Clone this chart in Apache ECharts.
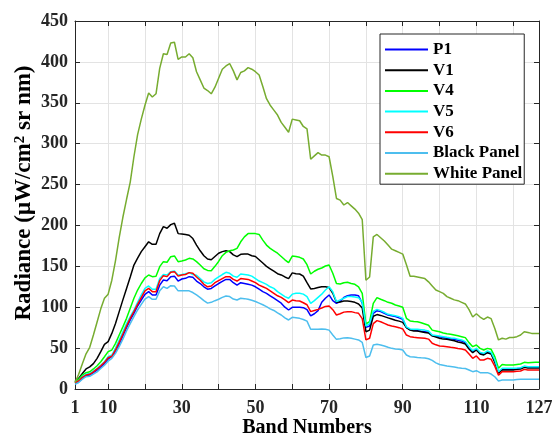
<!DOCTYPE html>
<html><head><meta charset="utf-8">
<script src="https://cdn.jsdelivr.net/npm/echarts@6/dist/echarts.min.js"></script>
<style>html,body{margin:0;padding:0;background:#fff}#c{width:552px;height:439px}</style>
</head><body><div id="c"></div>
<script>
const bands = Array.from({length: 127}, (_, i) => i + 1);
const xTickLabels = [1, 10, 30, 50, 70, 90, 110, 127];
const xGridValues = [10, 20, 30, 40, 50, 60, 70, 80, 90, 100, 110, 120];
const seriesNames = ['P1', 'V1', 'V4', 'V5', 'V6', 'Black Panel', 'White Panel'];

const P1 = [7, 9, 13, 16, 17, 20, 23, 27, 31, 36.7,
  39.5, 45.7, 54.6, 64.8, 75, 84.4, 92.5, 101.5, 108.8, 115.8,
  119, 115, 115, 127, 133.3, 132.5, 137.4, 138, 132, 134.5,
  135.3, 137.4, 136.6, 132, 129, 125, 122, 123, 126, 129,
  131.5, 134, 134, 130, 127, 130, 129, 128, 127, 125,
  122, 119, 117, 114, 111, 108, 105, 100, 96.6, 99.9,
  99.9, 99.9, 99.5, 97, 89.3, 92, 95.8, 106, 111, 115,
  108, 104.8, 107, 112, 114, 115, 115, 114, 105, 75.4,
  77, 92.5, 95.8, 94.6, 92.5, 90.5, 89.5, 88.5, 87, 85.2,
  75, 72.5, 72, 71.3, 70.5, 70, 69.5, 65, 64.5, 64,
  63, 62, 61.5, 60.7, 59.5, 58.7, 56.7, 50.5, 45.7, 48.5,
  43.6, 42.4, 45.2, 43.6, 34.2, 20, 24, 24, 24, 24,
  24.5, 25.3, 27.3, 26.5, 26.5, 26.5, 26.5];

const V1 = [9, 13, 19, 24.5, 27, 31, 37.5, 45.7, 54.6, 58,
  68, 80, 94.6, 109, 123, 137, 151.6, 160, 168, 174,
  180, 177, 177, 190, 198.5, 196.5, 201, 202.6, 190, 189.6,
  189, 188, 184, 176, 169, 163, 159, 158, 162, 166,
  168, 169, 168, 164, 161.8, 164.7, 165, 165, 163, 162,
  158, 154, 150, 147, 144, 141, 139.5, 137, 135, 142,
  141, 140.6, 138, 130, 122.3, 123, 124, 125, 125, 124,
  117, 106, 106.5, 107.5, 107.5, 107, 106, 104, 99, 70,
  72, 89, 91, 90, 88.5, 87, 85.5, 84, 83, 81.5,
  75, 72, 71, 71, 70, 69, 68.5, 65, 63.5, 62,
  61, 60.7, 60, 59, 57.5, 56.5, 55, 49, 44.4, 47.7,
  42.8, 41.6, 44.4, 42.8, 32.6, 19.2, 23.2, 23.2, 23.2, 23.2,
  24, 24.5, 26.5, 25.7, 25.7, 25.7, 25.7];

const V4 = [9, 12, 17, 20, 21, 24.5, 28.5, 33.4, 39.5, 45.7,
  47.7, 55.8, 66, 76, 86.4, 98.7, 111, 121, 129, 136,
  139.4, 137.4, 138, 149.6, 155.7, 155, 161.8, 162.7, 155.7, 156.5,
  157.8, 159.8, 159, 155.7, 151.7, 147, 145, 144.5, 150, 156,
  163, 167, 169, 170, 172, 180, 186, 190, 190, 190,
  189, 182, 176, 172, 169, 166, 162, 158, 154.5, 162.6,
  162, 161, 159, 152, 140.6, 144, 146.4, 148, 150.4, 151.6,
  141.5, 129, 128.4, 130, 130.5, 129, 128, 125, 117, 79.5,
  82.3, 104.8, 111.7, 109.7, 108, 106, 104.8, 102.7, 101.5, 100,
  86.4, 83.2, 82.5, 82.3, 81, 79.5, 78, 72, 71, 70,
  68.5, 67.5, 67, 66, 65, 64, 62.8, 56.7, 51.8, 53.8,
  49.7, 47.7, 49.7, 48.5, 39.5, 25.3, 30, 29.4, 29.4, 29.4,
  30, 30.6, 32.6, 32.2, 32.4, 32.6, 32.6];

const V5 = [8, 10, 15, 18, 19, 22, 25, 29, 33.4, 39.5,
  41.6, 50, 60, 70, 80, 88.5, 96.6, 106, 115, 123,
  126, 122, 122, 135, 140, 139.4, 143.5, 144.3, 139.4, 140,
  141, 142.3, 140, 139, 135, 131, 129, 130, 134, 137,
  140, 142.7, 141.5, 138, 136.6, 140.6, 140, 139.4, 138, 135,
  132, 130, 128, 125, 123, 119, 116, 113, 111, 116,
  117, 117, 116, 113, 104.8, 108, 112, 116, 121, 125,
  119, 106.8, 109, 111, 113, 113, 112.5, 111.7, 106, 77,
  80, 95, 97.4, 95.8, 93.8, 91.3, 90.5, 89.7, 88.5, 86.4,
  76, 73.4, 73.2, 73, 72.5, 72, 71, 66, 65.5, 64.8,
  64, 63.2, 62.5, 62, 61, 60, 58, 51.8, 46.9, 49.7,
  44.8, 43.6, 46.5, 44.8, 35.5, 21.2, 25.3, 25.3, 25.3, 25.3,
  25.6, 26, 28, 27.3, 27.3, 27.3, 27.3];

const V6 = [7.7, 9.8, 14.3, 17, 18, 21, 24.5, 28.5, 32.6, 38.3,
  40, 47.7, 57, 67, 77, 86.4, 94.6, 103.5, 111.7, 120,
  123, 119, 119, 132.5, 138.6, 137.4, 142.7, 143.5, 138, 139.4,
  140, 142.3, 141.5, 137, 133, 128, 125, 126, 130, 132.5,
  135, 137.4, 137.4, 134, 132, 135, 134.5, 134, 132, 130,
  127, 125, 123, 120, 117, 114, 112, 109, 105.6, 108.8,
  108, 107.6, 105.5, 103, 94.6, 96, 97.4, 99, 101, 101.5,
  97, 90.5, 92, 94, 94.6, 94.6, 93.4, 92.5, 86, 60,
  62, 80, 83.6, 82.3, 80.3, 78.3, 77, 76.2, 75, 73.4,
  66, 64, 63.2, 62.8, 62.4, 62, 61, 56, 54, 52.6,
  52.2, 51.8, 51, 50.5, 49.5, 49, 47.7, 42.8, 37.5, 40.4,
  35.5, 35.5, 37.5, 36.3, 28, 17, 21.2, 21.2, 21.2, 21.2,
  21.6, 22, 24, 23.2, 23.2, 23.2, 23.2];

const BlackPanel = [5.7, 8, 12, 15, 15.5, 18.3, 21, 25, 29, 34,
  37.5, 43.6, 51.8, 61, 71, 80, 88.5, 96.6, 103.5, 110,
  113, 109.7, 109.7, 120, 125, 123, 126.4, 126, 120, 120,
  120, 120, 118, 115, 111.7, 108, 105, 106, 108, 109.7,
  112, 113.7, 113, 110, 108.8, 111, 110.5, 109.7, 108.5, 107,
  105, 103, 100.7, 98, 96, 93, 90.5, 87, 84.4, 87.6,
  87, 86.4, 85, 83, 73, 73, 73, 73.5, 73, 72,
  66, 60.7, 61.5, 62.5, 62.8, 62, 61, 60, 57, 38.5,
  40.4, 53.8, 54.6, 53.8, 52.5, 51, 49.7, 49, 48.5, 47.7,
  41.6, 39.5, 39, 38.5, 38.2, 38, 37, 35, 32, 30,
  29, 28, 27.5, 27, 26, 25.3, 25, 23.2, 21.2, 22.4,
  20, 20, 20, 18.3, 15, 9.8, 11, 11, 11, 11,
  11.5, 11.8, 11.8, 11.8, 11.8, 11.8, 11.8];

const WhitePanel = [8, 18, 31, 43, 51, 66, 82, 98, 111, 116,
  133, 157, 185, 210, 232, 253, 284, 311, 330, 347,
  362, 357, 361, 392, 410, 409, 423, 424, 403, 406,
  406, 410, 405, 388, 378, 368, 365, 361, 369, 380,
  391, 395, 398, 389, 378, 387, 389, 393, 391, 388,
  384, 370, 355, 347, 341, 335, 326, 320, 314, 330,
  329, 328, 321, 318, 281, 285, 289, 286, 286, 284,
  260, 233, 231, 225, 228, 224, 220, 215, 207, 133,
  137, 186, 189, 185, 181, 176, 171, 169, 167, 165,
  152, 138, 138, 137, 136, 135, 131, 126, 121, 119,
  117, 113, 111, 109, 108, 106, 104, 97, 88, 92,
  88, 85, 88, 86, 74, 60, 62, 61, 63, 63,
  64, 66, 70, 69, 68, 68, 68];

const seriesValues = [P1, V1, V4, V5, V6, BlackPanel, WhitePanel];
const seriesColors = ['#0000FF', '#000000', '#00FF00', '#00FFFF', '#FF0000', '#4DBEEE', '#77AC30'];

const FONT = 'Liberation Serif';
const AX = '#262626';
const GRID = '#e3e3e3';

const chart = echarts.init(document.getElementById('c'), null, {renderer: 'canvas'});

function pairs(arr) { return bands.map((b, i) => [b, arr[i]]); }

const xBase = {
  type: 'value', min: 1, max: 127,
  axisLine: {show: true, onZero: false, lineStyle: {color: AX, width: 1}},
  axisTick: {show: true, inside: true, length: 5, customValues: xGridValues, lineStyle: {color: AX}},
};
const yBase = {
  type: 'value', min: 0, max: 450, interval: 50,
  axisLine: {show: true, onZero: false, lineStyle: {color: AX, width: 1}},
  axisTick: {show: true, inside: true, length: 5, lineStyle: {color: AX}},
};

const option = {
  animation: false,
  backgroundColor: '#ffffff',
  grid: {left: 75, right: 13, top: 21, bottom: 50, containLabel: false, outerBoundsMode: 'none'},
  legend: {
    data: seriesNames,
    orient: 'vertical',
    left: 380, top: 34,
    padding: [7, 2, 2, 4],
    itemWidth: 43, itemHeight: 14, itemGap: 3.7,
    backgroundColor: '#ffffff',
    borderColor: AX, borderWidth: 1, borderRadius: 0,
    itemStyle: {opacity: 0},
    lineStyle: {width: 2},
    textStyle: {fontFamily: FONT, fontWeight: 'bold', fontSize: 17, color: '#000'}
  },
  xAxis: [
    Object.assign({}, xBase, {
      position: 'bottom',
      axisLabel: {customValues: xTickLabels, fontFamily: FONT, fontWeight: 'bold', fontSize: 18, color: AX, margin: 10},
      splitLine: {show: true, lineStyle: {color: GRID, width: 1}},
      name: 'Band Numbers', nameLocation: 'middle', nameGap: 29, nameMoveOverlap: false,
      nameTextStyle: {fontFamily: FONT, fontWeight: 'bold', fontSize: 20, color: '#000'}
    }),
    Object.assign({}, xBase, {
      position: 'top',
      axisLabel: {show: false},
      splitLine: {show: false}
    })
  ],
  yAxis: [
    Object.assign({}, yBase, {
      position: 'left',
      axisLabel: {fontFamily: FONT, fontWeight: 'bold', fontSize: 18, color: AX, margin: 7},
      splitLine: {show: true, lineStyle: {color: GRID, width: 1}},
      name: 'Radiance (μW/cm{sup|2} sr nm)', nameLocation: 'middle', nameGap: 39, nameRotate: 90, nameMoveOverlap: false,
      nameTextStyle: {
        fontFamily: FONT, fontWeight: 'bold', fontSize: 23, color: '#000',
        padding: [0, 0, 0, 24],
        rich: {sup: {fontFamily: FONT, fontWeight: 'bold', fontSize: 15, color: '#000', verticalAlign: 'top', lineHeight: 23}}
      }
    }),
    Object.assign({}, yBase, {
      position: 'right',
      axisLabel: {show: false},
      splitLine: {show: false}
    })
  ],
  series: seriesNames.map((name, i) => ({
    name: name,
    type: 'line',
    xAxisIndex: 0, yAxisIndex: 0,
    data: pairs(seriesValues[i]),
    symbol: 'none', showSymbol: false,
    color: seriesColors[i],
    lineStyle: {color: seriesColors[i], width: 1.5},
    emphasis: {disabled: true},
    z: 2 + i
  }))
};
chart.setOption(option);
</script>
</body></html>
